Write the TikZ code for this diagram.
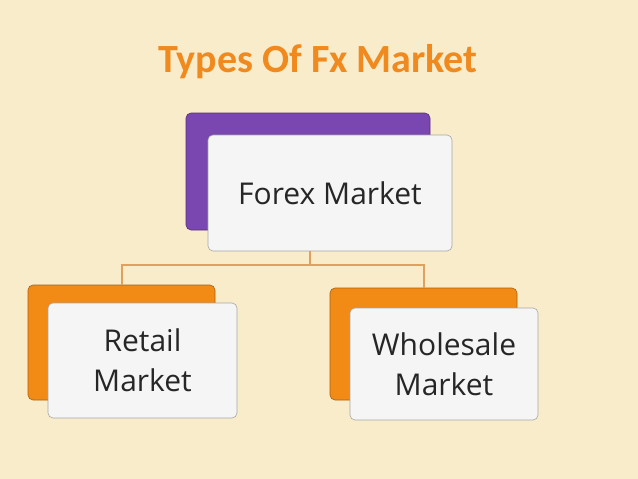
\documentclass[tikz,border=0pt]{standalone}
\usepackage{fontspec}
\setmainfont{Open Sans}
\newfontfamily\titlefont{Carlito}
\usetikzlibrary{positioning}
\definecolor{paper}{HTML}{F8ECCB}
\definecolor{titleorange}{HTML}{F08A1E}
\definecolor{purpleback}{HTML}{7A46B0}
\definecolor{orangeback}{HTML}{F28A16}
\definecolor{linkorange}{HTML}{E0A060}
\tikzset{
  backbox/.style={draw=#1!70!black, fill=#1, rounded corners=5pt, line width=0.6pt},
  frontbox/.style={draw=gray!70, fill=gray!8, rounded corners=5pt, line width=0.6pt, align=center,
    font=\fontsize{30}{40}\selectfont, text=black!85},
  link/.style={draw=linkorange, line width=1.2pt}
}
\begin{document}
\begin{tikzpicture}[x=1pt,y=-1pt]
% ---- background
\fill[paper] (0,0) rectangle (638,479);
\useasboundingbox (0,0) rectangle (638,479);
% ---- title
\node (title) at (318,62) {\titlefont\fontsize{40}{44}\selectfont\bfseries\color{titleorange}Types Of Fx Market};
% ---- top box
\fill[backbox=purpleback] (186,113) rectangle (430,230);
\node[frontbox, minimum width=244pt, minimum height=116pt] (forex) at (330,193) {Forex Market};
% ---- left box
\fill[backbox=orangeback] (28,285) rectangle (215,400);
\node[frontbox, minimum width=189pt, minimum height=115pt] (retail) at (142.5,360.5) {Retail\\Market};
% ---- right box
\fill[backbox=orangeback] (330,288) rectangle (517,400);
\node[frontbox, minimum width=188pt, minimum height=112pt] (wholesale) at (444,364) {Wholesale\\Market};
% ---- connectors
\coordinate (split) at (310,265);
\draw[link] (forex.south -| split) -- (split) -| (122,285);
\draw[link] (split) -| (424,288);
\end{tikzpicture}
\end{document}
